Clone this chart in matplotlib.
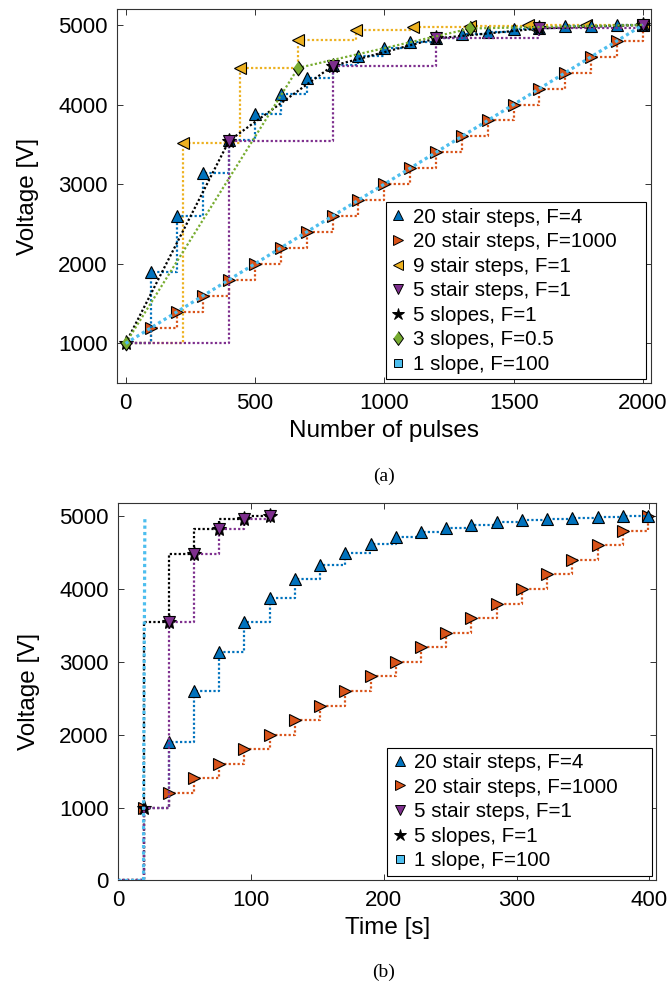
import numpy as np
import matplotlib
matplotlib.use("Agg")
import matplotlib.pyplot as plt
from matplotlib.lines import Line2D

plt.rcParams['font.family'] = ['Liberation Sans', 'DejaVu Sans']

# ---------------- data: voltage vs number of pulses ----------------
pulses_20 = [0, 100, 200, 300, 400, 500, 600, 700, 800, 900, 1000,
             1100, 1200, 1300, 1400, 1500, 1600, 1700, 1800, 1900, 2000]
v_stair20_f4 = [1000, 1900, 2600, 3140, 3550, 3880, 4135, 4335, 4495, 4615, 4710,
                4785, 4835, 4885, 4915, 4945, 4965, 4980, 4990, 5000, 5000]
v_stair20_f1000 = [1000, 1200, 1400, 1600, 1800, 2000, 2200, 2400, 2600, 2800, 3000,
                   3200, 3400, 3600, 3800, 4000, 4200, 4400, 4600, 4800, 5000]
pulses_9 = [0, 222, 444, 667, 889, 1111, 1333, 1556, 1778, 2000]
v_stair9 = [1000, 3520, 4455, 4805, 4930, 4978, 4992, 4997, 5000, 5000]
pulses_5 = [0, 400, 800, 1200, 1600, 2000]
v_stair5 = [1000, 3545, 4485, 4830, 4955, 5000]
v_slopes5 = [1000, 3545, 4485, 4830, 4955, 5000]
pulses_3 = [0, 667, 1333, 2000]
v_slopes3 = [1000, 4460, 4955, 5000]
pulses_1 = [0, 2000]
v_slope1 = [1000, 5000]

# ---------------- data: voltage vs time ----------------
time_20 = [0, 19, 38, 57, 76, 95, 114, 133, 152, 171, 190,
           209, 228, 247, 266, 285, 304, 323, 342, 361, 380, 399]
vt_stair20_f4 = [0, 1000, 1900, 2600, 3140, 3550, 3880, 4135, 4335, 4495, 4615,
                 4710, 4785, 4835, 4885, 4915, 4945, 4965, 4980, 4990, 5000, 5000]
vt_stair20_f1000 = [0, 1000, 1200, 1400, 1600, 1800, 2000, 2200, 2400, 2600, 2800,
                    3000, 3200, 3400, 3600, 3800, 4000, 4200, 4400, 4600, 4800, 5000]
time_5 = [0, 19, 38, 57, 76, 95, 114]
vt_stair5 = [0, 1000, 3545, 4485, 4830, 4955, 5000]
vt_slopes5 = [0, 1000, 3545, 4485, 4830, 4955, 5000]
time_1 = [0, 19, 19, 20]
vt_slope1 = [0, 0, 1000, 5000]

# ---------------- styles ----------------
C_BLUE = (0.0, 0.447, 0.741)
C_ORANGE = (0.85, 0.325, 0.098)
C_YELLOW = (0.929, 0.694, 0.125)
C_PURPLE = (0.494, 0.184, 0.556)
C_GREEN = (0.466, 0.674, 0.188)
C_LBLUE = (0.301, 0.745, 0.933)
C_BLACK = (0.0, 0.0, 0.0)

DOT = (0, (1, 1))
LW = 1.6
MS = 9.0
DIAMOND = [(0, 1), (0.72, 0), (0, -1), (-0.72, 0)]

STYLE = {
    'f4':    dict(color=C_BLUE, marker='^'),
    'f1000': dict(color=C_ORANGE, marker='>'),
    's9':    dict(color=C_YELLOW, marker='<'),
    's5':    dict(color=C_PURPLE, marker='v'),
    'sl5':   dict(color=C_BLACK, marker='*'),
    'sl3':   dict(color=C_GREEN, marker=DIAMOND),
    'sl1':   dict(color=C_LBLUE, marker='s'),
}
MSIZE = {'f4': MS, 'f1000': MS, 's9': MS, 's5': MS, 'sl5': MS + 2,
         'sl3': MS + 1.5, 'sl1': 6.5}


def line(ax, x, y, key, z, lw=LW, step=None):
    kw = dict(color=STYLE[key]['color'], linestyle=DOT, linewidth=lw, zorder=z)
    if step:
        kw['drawstyle'] = step
    ax.plot(x, y, **kw)


def marks(ax, x, y, key, z):
    ax.plot(x, y, linestyle='none', marker=STYLE[key]['marker'],
            markersize=MSIZE[key], markerfacecolor=STYLE[key]['color'],
            markeredgecolor='black', markeredgewidth=0.8, zorder=z)


def handle(key, label):
    scale = 0.95 if key == 'sl3' else 0.78
    return Line2D([], [], linestyle='none', marker=STYLE[key]['marker'],
                  markersize=MSIZE[key] * scale, markerfacecolor=STYLE[key]['color'],
                  markeredgecolor='black', markeredgewidth=0.7, label=label)


def style_axes(ax):
    for s in ax.spines.values():
        s.set_color('0.2')
        s.set_linewidth(0.8)
    ax.tick_params(direction='in', length=4, width=0.7, top=True, right=True,
                   labelsize=16, pad=7, color='0.2')


def legend(ax, handles, box):
    lg = ax.legend(handles=handles, loc='lower left', bbox_to_anchor=box,
                   mode='expand', borderaxespad=0, fontsize=14.8,
                   handlelength=0.7, handletextpad=0.35, labelspacing=0.27,
                   borderpad=0.26, fancybox=False, framealpha=1,
                   edgecolor='black')
    lg.get_frame().set_linewidth(0.8)
    lg.set_zorder(20)
    return lg


fig = plt.figure(figsize=(6.67, 9.84), dpi=100)

# ---------------- (a) number of pulses ----------------
ax1 = fig.add_axes([0.1759, 0.6105, 0.7997, 0.3804])
line(ax1, pulses_20, v_stair20_f1000, 'f1000', 2, step='steps-post')
marks(ax1, pulses_20[1:], v_stair20_f1000[1:], 'f1000', 2.1)
line(ax1, pulses_9, v_stair9, 's9', 3, step='steps-post')
marks(ax1, pulses_9[1:], v_stair9[1:], 's9', 3.1)
line(ax1, pulses_20, v_stair20_f4, 'f4', 4, step='steps-post')
marks(ax1, pulses_20[1:], v_stair20_f4[1:], 'f4', 4.1)
line(ax1, pulses_5, v_slopes5, 'sl5', 5)
marks(ax1, pulses_5, v_slopes5, 'sl5', 5.1)
line(ax1, pulses_5, v_stair5, 's5', 6, step='steps-post')
marks(ax1, pulses_5[1:], v_stair5[1:], 's5', 6.1)
line(ax1, pulses_3, v_slopes3, 'sl3', 7)
marks(ax1, pulses_3[:-1], v_slopes3[:-1], 'sl3', 7.1)
line(ax1, pulses_1, v_slope1, 'sl1', 8, lw=2.3)

ax1.set_xlim(-32, 2030)
ax1.set_ylim(500, 5200)
ax1.set_xticks([0, 500, 1000, 1500, 2000])
ax1.set_yticks([1000, 2000, 3000, 4000, 5000])
style_axes(ax1)
ax1.set_xlabel('Number of pulses', fontsize=17.5, labelpad=4)
ax1.set_ylabel('Voltage [V]', fontsize=17.5, labelpad=14)

legend(ax1, [handle('f4', '20 stair steps, F=4'),
             handle('f1000', '20 stair steps, F=1000'),
             handle('s9', '9 stair steps, F=1'),
             handle('s5', '5 stair steps, F=1'),
             handle('sl5', '5 slopes, F=1'),
             handle('sl3', '3 slopes, F=0.5'),
             handle('sl1', '1 slope, F=100')],
       (0.5035, 0.0107, 0.4875, 0.47))

# ---------------- (b) time ----------------
ax2 = fig.add_axes([0.1774, 0.1052, 0.8061, 0.3839])
line(ax2, time_20, vt_stair20_f1000, 'f1000', 2, step='steps-post')
marks(ax2, time_20[1:], vt_stair20_f1000[1:], 'f1000', 2.1)
line(ax2, time_20, vt_stair20_f4, 'f4', 3, step='steps-post')
marks(ax2, time_20[2:], vt_stair20_f4[2:], 'f4', 3.1)
# each slope finishes within one step, so the level reached is held until the next one
v_hold = np.r_[vt_slopes5[0], vt_slopes5[2:], vt_slopes5[-1]]
line(ax2, time_5, v_hold, 'sl5', 4, step='steps-post')
marks(ax2, time_5[1:], vt_slopes5[1:], 'sl5', 4.1)
line(ax2, time_5, vt_stair5, 's5', 5, step='steps-post')
marks(ax2, time_5[2:], vt_stair5[2:], 's5', 5.1)
line(ax2, time_1, vt_slope1, 'sl1', 6, lw=2.3)

ax2.set_xlim(0, 405)
ax2.set_ylim(0, 5185)
ax2.set_xticks([0, 100, 200, 300, 400])
ax2.set_yticks([0, 1000, 2000, 3000, 4000, 5000])
style_axes(ax2)
ax2.set_xlabel('Time [s]', fontsize=17.5, labelpad=4)
ax2.set_ylabel('Voltage [V]', fontsize=17.5, labelpad=14)

legend(ax2, [handle('f4', '20 stair steps, F=4'),
             handle('f1000', '20 stair steps, F=1000'),
             handle('s5', '5 stair steps, F=1'),
             handle('sl5', '5 slopes, F=1'),
             handle('sl1', '1 slope, F=100')],
       (0.5, 0.0127, 0.492, 0.34))

# sub-figure captions
fig.text(0.5757, 1 - 476 / 984, '(a)', ha='center', va='center',
         fontsize=14, family=['Liberation Serif', 'DejaVu Serif'])
fig.text(0.5757, 1 - 972 / 984, '(b)', ha='center', va='center',
         fontsize=14, family=['Liberation Serif', 'DejaVu Serif'])

fig.savefig('out.png', dpi=100)
